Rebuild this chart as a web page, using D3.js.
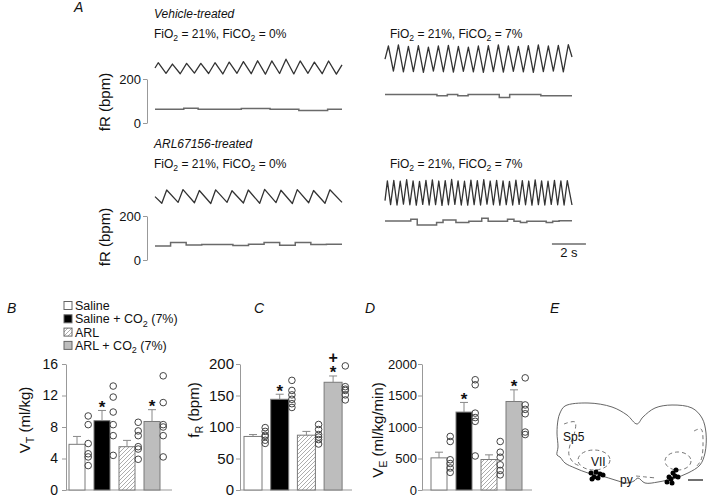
<!DOCTYPE html>
<html>
<head>
<meta charset="utf-8">
<script src="https://cdn.jsdelivr.net/npm/d3@7"></script>
<style>
  body { margin: 0; background: #fff; }
  text { font-family: "Liberation Sans", Arial, sans-serif; fill: #111; }
</style>
</head>
<body>
<script>
// ---- Panel A: breathing traces, peak / trough values ----
const vehNormPeaks   = [274, 268, 271, 271, 274, 277, 279, 283, 282, 290, 282, 277, 282];
const vehNormTroughs = [226, 224, 227, 225, 223, 226, 224, 222, 225, 223, 226, 224, 222];
const vehNormFR      = [62, 62, 67, 62, 62, 62, 66, 66, 63, 63, 57, 57, 62];

const vehHyperPeaks   = [350, 355, 348, 352, 345, 350, 353, 348, 345, 350, 352, 355, 350, 348, 352, 355, 350, 353, 356];
const vehHyperTroughs = [236, 232, 234, 230, 236, 233, 231, 235, 232, 230, 234, 231, 235, 232, 230, 234, 236, 232];
const vehHyperFR      = [130, 130, 130, 130, 130, 124, 130, 124, 130, 130, 130, 116, 130, 130, 130, 124, 124, 124];

const arlNormTroughs = [258, 262, 260, 257, 262, 259, 258, 261, 257, 260, 258];
const arlNormPeaks   = [318, 320, 316, 319, 315, 318, 321, 317, 320, 316, 319];
const arlNormFR      = [64, 80, 68, 71, 71, 66, 72, 80, 67, 79, 70, 72];

const arlHyperPeaks   = [360, 362, 358, 365, 360, 357, 362, 364, 359, 361, 366, 360, 358, 363, 361, 365, 359, 362, 360, 357, 363, 361, 359, 364, 360, 358, 362, 360, 361];
const arlHyperTroughs = [252, 250, 254, 251, 249, 253, 250, 252, 248, 251, 253, 250, 249, 252, 250, 254, 251, 249, 252, 250, 253, 251, 249, 252, 250, 253, 251, 250];
const arlHyperFR      = [177, 177, 177, 177, 185, 159, 159, 159, 170, 182, 182, 170, 170, 176, 176, 190, 176, 176, 176, 185, 176, 170, 176, 176, 176, 170, 176, 178, 178];

// ---- Panels B-D: group means, SEM and individual animals ----
const groups = ["Saline", "Saline + CO2 (7%)", "ARL", "ARL + CO2 (7%)"];
const vtMean = [5.8, 8.8, 5.5, 8.7];
const vtSem  = [1.0, 1.3, 0.8, 1.5];
const vtDots = [[9.4, 8.3, 5.9, 4.6, 4.2, 3.1], [13.2, 11.8, 9.9, 8.3, 6.9, 4.4],
                [8.6, 7.5, 6.9, 5.5, 5.2, 3.9], [14.5, 11.1, 8.3, 8.0, 6.9, 4.2]];
const frMean = [85, 144, 87, 171];
const frSem  = [3, 8, 6, 10];
const frDots = [[99, 93, 87, 85, 79, 74], [174, 158, 151, 144, 137, 131],
                [104, 96, 88, 84, 80, 73], [197, 164, 160, 158, 151, 143]];
const veMean = [510, 1237, 484, 1405];
const veSem  = [90, 153, 74, 185];
const veDots = [[850, 770, 480, 420, 350, 280], [1750, 1670, 1220, 1150, 1090, 540],
                [770, 600, 520, 400, 310, 240], [1780, 1350, 1280, 1210, 920, 880]];
const starMarks = ["", "*", "", "*"];
const plusMarks = ["", "", "", "+"];

// ---- Panel E: section outline and injection sites (local units) ----
const sectionOutline = [[4,8],[9,1],[32,-2],[56,2],[71,10],[81,19],[87,12],[99,3],[116,0],[136,3],[146,13],[150,28],
  [149,48],[144,60],[132,68],[119,73],[102,77],[89,78],[82,73],[78,76],[71,78],[59,75],[46,71],[32,68],[19,63],
  [9,58],[4,52],[1,50],[2,42],[1,28],[2,15]];
const sp5Left  = [[8,19],[19,17],[18,30],[14,40],[13,50],[18,58],[24,61]];
const sp5Right = [[138,26],[145,24],[147,40],[145,55],[140,62]];
const pyLine   = [[80,71],[90,72],[100,73]];
const viiNuclei = [[38,55,16,10],[122,56,13,9]];
const siteDots = [[35,68],[40,67],[44,69],[38,72],[42,73],[47,70],[36,74],
                  [111,77],[115,74],[119,71],[117,68],[122,72],[113,72],[116,78],[120,65]];

const width = 709, height = 495;
const svg = d3.select("body").append("svg").attr("width", width).attr("height", height);

const defs = svg.append("defs");
const hatch = defs.append("pattern").attr("id", "hatch")
  .attr("patternUnits", "userSpaceOnUse").attr("width", 4).attr("height", 4);
hatch.append("rect").attr("width", 4).attr("height", 4).attr("fill", "#fff");
hatch.append("path").attr("d", "M0,4 L4,0 M-1,1 L1,-1 M3,5 L5,3")
  .attr("stroke", "#8a8a8a").attr("stroke-width", 0.7);
const fills = ["#fff", "#000", "url(#hatch)", "#bdbdbd"];

// text with subscripts: parts = [[string, isSub], ...]
function rich(sel, parts, size) {
  parts.forEach(([s, sub], i) => {
    const t = sel.append("tspan").text(s);
    if (sub) t.attr("font-size", size * 0.72).attr("dy", size * 0.28);
    else {
      t.attr("font-size", size);
      if (i > 0 && parts[i - 1][1]) t.attr("dy", -size * 0.28);
    }
  });
  return sel;
}

// ---------------- Panel A ----------------
const dur = 11;
const xL = d3.scaleLinear().domain([0, dur]).range([155, 342]);
const xR = d3.scaleLinear().domain([0, dur]).range([385, 572]);
const yRow1 = d3.scaleLinear().domain([0, 200]).range([123, 79]);
const yRow2 = d3.scaleLinear().domain([0, 200]).range([260, 216]);

function breathPoints(tr) {
  const pts = [[0, tr.start]];
  tr.first.forEach((v, i) => {
    pts.push([tr.t0 + i * tr.period, v]);
    if (i < tr.second.length) pts.push([tr.t0 + (i + tr.f) * tr.period, tr.second[i]]);
  });
  pts.push([dur, tr.end]);
  return pts;
}
function stepPoints(vals) {
  const pts = vals.map((v, i) => [i * dur / vals.length, v]);
  pts.push([dur, vals[vals.length - 1]]);
  return pts;
}

const traces = [
  { x: xL, y: yRow1, first: vehNormPeaks, second: vehNormTroughs, t0: 0.19, period: 0.835, f: 0.55, start: 250, end: 264, fr: vehNormFR },
  { x: xR, y: yRow1, first: vehHyperPeaks, second: vehHyperTroughs, t0: 0.2, period: 0.588, f: 0.5, start: 290, end: 300, fr: vehHyperFR },
  { x: xL, y: yRow2, first: arlNormTroughs, second: arlNormPeaks, t0: 0.40, period: 0.96, f: 0.3, start: 288, end: 262, fr: arlNormFR },
  { x: xR, y: yRow2, first: arlHyperPeaks, second: arlHyperTroughs, t0: 0.14, period: 0.378, f: 0.5, start: 270, end: 250, fr: arlHyperFR }
];

traces.forEach(tr => {
  const line = d3.line().x(d => tr.x(d[0])).y(d => tr.y(d[1]));
  svg.append("path").attr("d", line(breathPoints(tr)))
    .attr("fill", "none").attr("stroke", "#333").attr("stroke-width", 1.3).attr("stroke-linejoin", "round");
  svg.append("path").attr("d", line.curve(d3.curveStepAfter)(stepPoints(tr.fr)))
    .attr("fill", "none").attr("stroke", "#6a6a6a").attr("stroke-width", 1.5);
});

[yRow1, yRow2].forEach((y, r) => {
  const g = svg.append("g").attr("transform", "translate(147,0)")
    .call(d3.axisLeft(y).tickValues([0, 200]).tickSize(4).tickSizeOuter(0).tickPadding(2));
  g.select(".domain").attr("stroke", "#999");
  g.selectAll(".tick line").attr("stroke", "#999");
  g.selectAll(".tick text").attr("font-size", 13).attr("font-family", "Liberation Sans, Arial").attr("fill", "#111");
  svg.append("text").attr("transform", `translate(110,${r ? 237 : 102}) rotate(-90)`)
    .attr("text-anchor", "middle").attr("font-size", 15).text("fR (bpm)");
});

svg.append("text").attr("x", 74).attr("y", 12).attr("font-size", 14).attr("font-style", "italic").text("A");
svg.append("text").attr("x", 154).attr("y", 18).attr("font-size", 12).attr("font-style", "italic").text("Vehicle-treated");
svg.append("text").attr("x", 154).attr("y", 148).attr("font-size", 12).attr("font-style", "italic").text("ARL67156-treated");
[[154, 38, "0%"], [390, 38, "7%"], [154, 168, "0%"], [390, 168, "7%"]].forEach(([x, y, c]) => {
  rich(svg.append("text").attr("x", x).attr("y", y),
    [["FiO", 0], ["2", 1], [" = 21%, FiCO", 0], ["2", 1], [" = " + c, 0]], 12);
});

// 2 s scale bar
svg.append("line").attr("x1", xR(9.82)).attr("x2", xR(11.82)).attr("y1", 244).attr("y2", 244)
  .attr("stroke", "#222").attr("stroke-width", 1.2);
svg.append("text").attr("x", xR(10.82)).attr("y", 257).attr("text-anchor", "middle").attr("font-size", 13).text("2 s");

// ---------------- Panels B-D ----------------
function barPanel(cfg) {
  const y = d3.scaleLinear().domain([0, cfg.max]).range([490, 364]);
  const p = (cfg.step - cfg.barW) / cfg.step;
  const x = d3.scaleBand().domain(groups)
    .range([cfg.x0, cfg.x0 + 3 * cfg.step + cfg.barW]).paddingInner(p).paddingOuter(0);
  const bw = x.bandwidth();
  const g = svg.append("g");

  g.append("line").attr("x1", cfg.axisX).attr("x2", cfg.xEnd).attr("y1", y(0)).attr("y2", y(0))
    .attr("stroke", "#999");

  groups.forEach((grp, i) => {
    const bx = x(grp);
    g.append("rect").attr("x", bx).attr("y", y(cfg.mean[i])).attr("width", bw)
      .attr("height", y(0) - y(cfg.mean[i])).attr("fill", fills[i]).attr("stroke", "#7a7a7a").attr("stroke-width", 1);
    const top = y(cfg.mean[i] + cfg.sem[i]);
    g.append("line").attr("x1", bx + bw / 2).attr("x2", bx + bw / 2).attr("y1", y(cfg.mean[i])).attr("y2", top)
      .attr("stroke", "#888");
    g.append("line").attr("x1", bx + bw / 2 - 4).attr("x2", bx + bw / 2 + 4).attr("y1", top).attr("y2", top)
      .attr("stroke", "#888");
    g.selectAll(null).data(cfg.dots[i]).join("circle")
      .attr("cx", bx + bw + 3.2).attr("cy", d => y(d)).attr("r", 3.3)
      .attr("fill", "none").attr("stroke", "#444").attr("stroke-width", 1);
    if (starMarks[i]) g.append("text").attr("x", bx + bw / 2).attr("y", top + 2.5)
      .attr("text-anchor", "middle").attr("font-size", 17).attr("font-weight", "bold").text(starMarks[i]);
    if (cfg.plus && plusMarks[i]) g.append("text").attr("x", bx + bw / 2).attr("y", top - 13)
      .attr("text-anchor", "middle").attr("font-size", 16).attr("font-weight", "bold").text(plusMarks[i]);
  });

  const ax = g.append("g").attr("transform", `translate(${cfg.axisX},0)`)
    .call(d3.axisLeft(y).tickValues(cfg.ticks).tickFormat(d3.format("d"))
      .tickSize(4).tickSizeOuter(0).tickPadding(cfg.pad));
  ax.select(".domain").attr("stroke", "#999");
  ax.selectAll(".tick line").attr("stroke", "#999");
  ax.selectAll(".tick text").attr("font-size", cfg.tickFont).attr("font-family", "Liberation Sans, Arial").attr("fill", "#111");

  rich(svg.append("text").attr("transform", `translate(${cfg.labelX},${cfg.labelY}) rotate(-90)`)
    .attr("text-anchor", "middle"), cfg.label, 15);
  svg.append("text").attr("x", cfg.letterX).attr("y", 313).attr("font-size", 14)
    .attr("font-style", "italic").text(cfg.letter);
}

barPanel({ letter: "B", letterX: 7, mean: vtMean, sem: vtSem, dots: vtDots, max: 16, ticks: [0, 4, 8, 12, 16],
  x0: 69, step: 25, barW: 16, axisX: 66, xEnd: 172, pad: 4, tickFont: 14,
  label: [["V", 0], ["T", 1], [" (ml/kg)", 0]], labelX: 30, labelY: 420 });
barPanel({ letter: "C", letterX: 254, mean: frMean, sem: frSem, dots: frDots, max: 200, ticks: [0, 50, 100, 150, 200],
  x0: 244, step: 26.7, barW: 18, axisX: 240, xEnd: 352, pad: 2, tickFont: 15, plus: true,
  label: [["f", 0], ["R", 1], [" (bpm)", 0]], labelX: 199, labelY: 410 });
barPanel({ letter: "D", letterX: 365, mean: veMean, sem: veSem, dots: veDots, max: 2000, ticks: [0, 500, 1000, 1500, 2000],
  x0: 431, step: 25, barW: 16, axisX: 422, xEnd: 532, pad: 1, tickFont: 13,
  label: [["V", 0], ["E", 1], [" (ml/kg/min)", 0]], labelX: 383, labelY: 430 });

// legend
const legendLabels = [[["Saline", 0]], [["Saline + CO", 0], ["2", 1], [" (7%)", 0]], [["ARL", 0]], [["ARL + CO", 0], ["2", 1], [" (7%)", 0]]];
legendLabels.forEach((parts, i) => {
  const cy = 305.5 + i * 13.3;
  svg.append("rect").attr("x", 64).attr("y", cy - 4).attr("width", 8).attr("height", 8)
    .attr("fill", fills[i]).attr("stroke", "#666");
  rich(svg.append("text").attr("x", 75).attr("y", cy + 4.4), parts, 12.5);
});

// ---------------- Panel E ----------------
const xE = d3.scaleLinear().domain([0, 150]).range([556, 706]);
const yE = d3.scaleLinear().domain([0, 80]).range([405, 485]);
const lineE = d3.line().x(d => xE(d[0])).y(d => yE(d[1]));
svg.append("path").attr("d", lineE.curve(d3.curveCatmullRomClosed)(sectionOutline))
  .attr("fill", "none").attr("stroke", "#555").attr("stroke-width", 0.9);
[sp5Left, sp5Right, pyLine].forEach(pts => {
  svg.append("path").attr("d", lineE.curve(d3.curveCatmullRom)(pts))
    .attr("fill", "none").attr("stroke", "#666").attr("stroke-width", 0.9).attr("stroke-dasharray", "4,3");
});
viiNuclei.forEach(([cx, cy, rx, ry]) => {
  svg.append("ellipse").attr("cx", xE(cx)).attr("cy", yE(cy)).attr("rx", rx).attr("ry", ry)
    .attr("fill", "none").attr("stroke", "#666").attr("stroke-width", 0.9).attr("stroke-dasharray", "4,3");
});
svg.selectAll(".site").data(siteDots).join("circle").attr("class", "site")
  .attr("cx", d => xE(d[0])).attr("cy", d => yE(d[1])).attr("r", 2.5).attr("fill", "#000");
svg.append("line").attr("x1", xE(132)).attr("x2", xE(147)).attr("y1", yE(75)).attr("y2", yE(75))
  .attr("stroke", "#111").attr("stroke-width", 1.2);
[["Sp5", 7, 36], ["VII", 35, 61], ["py", 64, 79]].forEach(([t, x, y]) => {
  svg.append("text").attr("x", xE(x)).attr("y", yE(y)).attr("font-size", 12).text(t);
});
svg.append("text").attr("x", 550).attr("y", 313).attr("font-size", 14).attr("font-style", "italic").text("E");
</script>
</body>
</html>
